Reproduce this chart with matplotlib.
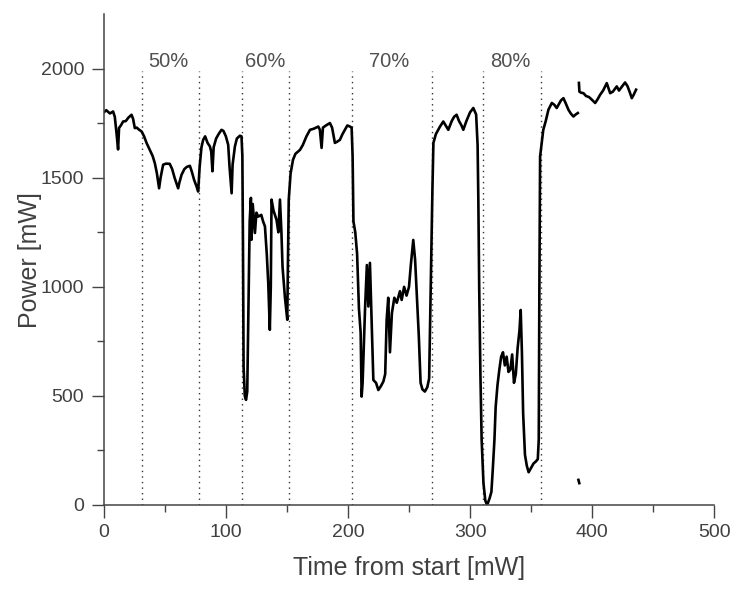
import matplotlib
matplotlib.use("Agg")
import matplotlib.pyplot as plt
import numpy as np

plt.rcParams['font.family'] = ['Liberation Sans', 'DejaVu Sans']

# power trace (time, power); None = gap in the record
t = [0, 2, 5, 7.6, 9, 10.5, 11.7, 12.5, 14, 15.8, 18, 20, 22.7, 24, 25.4, 27, 29, 30.9,
     33, 35, 37.7, 40, 41.8, 43.5, 45.3, 46.5, 48.6, 51, 54, 56, 58, 60.9, 62, 63.7, 66,
     68, 70.5, 72, 74, 76, 77.3, 78.5, 80, 81.4, 83, 85, 86.9, 88, 89, 90, 92, 94, 96.4,
     98, 100, 101.9, 103, 104.7, 105.5, 107.4, 109, 111.5, 112.8,
     113.5, 114, 114.5, 115.5, 116.5, 117.5, 118.5, 119.5, 120.5, 121, 122, 123.8, 125,
     126.5, 129, 130.5, 132, 133.5, 134.7, 136, 136.8, 137.4, 139, 141.5, 143, 144.3,
     145.5, 146.4, 148.4, 150.3, 150.8, 151.5, 153, 155, 157, 160.7, 163, 166, 168.9,
     172, 175.7, 177, 178.4, 179.5, 182, 185.2, 187, 189.3, 191, 193.4, 195.5, 197.5,
     199.5, 201.6, 203,
     203.8, 204.5, 206, 207.5, 209, 210.4, 211.2, 212, 212.8, 214, 215.5, 216.7, 218,
     219.4, 220.8, 223, 224.9, 227, 229, 230.5, 231.7, 233, 234.4, 236, 238, 240, 242.6,
     244, 246, 248, 250, 251.5, 253.5, 255, 256.5, 258, 259.5, 261, 263, 265, 266.5,
     267.5, 268.5, 269.2, 270, 272, 275.4, 278.1, 280, 282.2, 285, 287, 289, 291, 293,
     294.5, 297, 300, 302.7, 305,
     306.2, 306.8, 307.5, 308.5, 309.5, 311, 312.5, 314, 316, 317.5, 318.5, 320, 321,
     322.5, 324, 325.5, 327, 328.5, 330, 331.5, 333, 334.5, 336, 337.5, 339, 340.5,
     341.5, 342.5, 343.5, 345, 346.5, 348, 350, 352, 354, 355.5, 356.3, 356.8, 357.4,
     358.5, 360, 362, 364.2, 367, 369, 371, 373, 374.5, 376.5, 378.5, 380.6, 382.5,
     384.7, 386.5, 388.3,
     None, 388.8, 389.5,
     None, 389.2, 389.6, 391, 392.9, 395, 397.5, 399.8, 402.5, 404.5, 406.6, 409, 412,
     413.5, 414.8, 417, 420.2, 422, 424, 427, 429, 431, 432.5, 434, 436]
power = [1800, 1810, 1795, 1804, 1780, 1700, 1630, 1729, 1740, 1758, 1760, 1775, 1789, 1770,
         1728, 1730, 1720, 1713, 1690, 1660, 1628, 1600, 1567, 1520, 1452, 1500, 1560,
         1565, 1564, 1540, 1500, 1452, 1480, 1514, 1540, 1550, 1555, 1530, 1490, 1460,
         1437, 1550, 1640, 1674, 1690, 1660, 1644, 1620, 1530, 1640, 1680, 1700, 1720,
         1715, 1690, 1651, 1550, 1429, 1560, 1644, 1680, 1693, 1690,
         1600, 1200, 634, 500, 482, 520, 900, 1300, 1408, 1216, 1380, 1247, 1340, 1322,
         1330, 1300, 1277, 1150, 1017, 803, 1000, 1400, 1350, 1307, 1250, 1400, 1250,
         1093, 950, 849, 1100, 1400, 1520, 1583, 1610, 1628, 1650, 1690, 1720, 1725,
         1735, 1720, 1637, 1730, 1740, 1751, 1730, 1660, 1665, 1674, 1700, 1720, 1740,
         1735, 1730,
         1600, 1300, 1250, 1150, 900, 790, 497, 560, 700, 900, 1100, 910, 1110, 849, 573,
         560, 527, 545, 566, 600, 849, 950, 700, 880, 950, 927, 980, 940, 1000, 960, 1000,
         1100, 1215, 1124, 950, 780, 560, 530, 520, 540, 580, 900, 1200, 1450, 1660, 1700,
         1735, 1758, 1740, 1720, 1760, 1780, 1789, 1760, 1740, 1720, 1760, 1800, 1820,
         1790,
         1650, 1400, 1000, 600, 300, 100, 20, 0, 30, 60, 150, 300, 450, 550, 620, 680, 700,
         640, 680, 610, 620, 690, 560, 600, 720, 800, 894, 700, 420, 230, 180, 150, 170,
         190, 200, 210, 300, 1000, 1598, 1650, 1720, 1760, 1812, 1843, 1835, 1820, 1840,
         1855, 1865, 1840, 1812, 1795, 1781, 1790, 1797,
         None, 115, 100,
         None, 1935, 1895, 1890, 1888, 1875, 1870, 1858, 1843, 1860, 1881, 1900, 1934,
         1910, 1888, 1895, 1919, 1900, 1915, 1937, 1920, 1890, 1865, 1880, 1904]

# load-step markers and their labels
steps = [31.5, 78, 113.5, 152, 203.5, 269, 310.7, 358]
step_labels = ["50%", "60%", "70%", "80%"]
label_t = [52.5, 132, 234, 333]

t = np.array([np.nan if x is None else x for x in t])
power = np.array([np.nan if x is None else x for x in power])

fig = plt.figure(figsize=(7.31, 5.92), dpi=100)
ax = fig.add_axes([0.142, 0.147, 0.835, 0.829])

for s in steps:
    ax.plot([s, s], [0, 1990], color="#333333", lw=1.0, ls=(0, (1, 3)))
for lab, x in zip(step_labels, label_t):
    ax.text(x, 2035, lab, ha="center", va="center", fontsize=14.5, color="#505050")

ax.plot(t, power, color="black", lw=1.9)

ax.set_xlim(0, 500)
ax.set_ylim(0, 2250)
ax.set_xticks([0, 100, 200, 300, 400, 500])
ax.set_yticks([0, 500, 1000, 1500, 2000])
ax.set_xticks(np.arange(50, 500, 100), minor=True)
ax.set_yticks(np.arange(250, 2250, 500), minor=True)
ax.tick_params(which="major", direction="out", length=9, width=1, color="#444444",
               labelsize=14, labelcolor="#404040", pad=5)
ax.tick_params(which="minor", direction="out", length=5, width=1, color="#444444")
for sp in ["top", "right"]:
    ax.spines[sp].set_visible(False)
for sp in ["left", "bottom"]:
    ax.spines[sp].set_color("#444444")
    ax.spines[sp].set_linewidth(1.1)

ax.set_xlabel("Time from start [mW]", fontsize=18, color="#404040")
ax.set_ylabel("Power [mW]", fontsize=18, color="#404040")
ax.xaxis.set_label_coords(0.5, -0.128)
ax.yaxis.set_label_coords(-0.121, 0.5)
ax.xaxis.label.set_va("center")
ax.yaxis.label.set_va("center")

plt.savefig("out.png", dpi=100)
